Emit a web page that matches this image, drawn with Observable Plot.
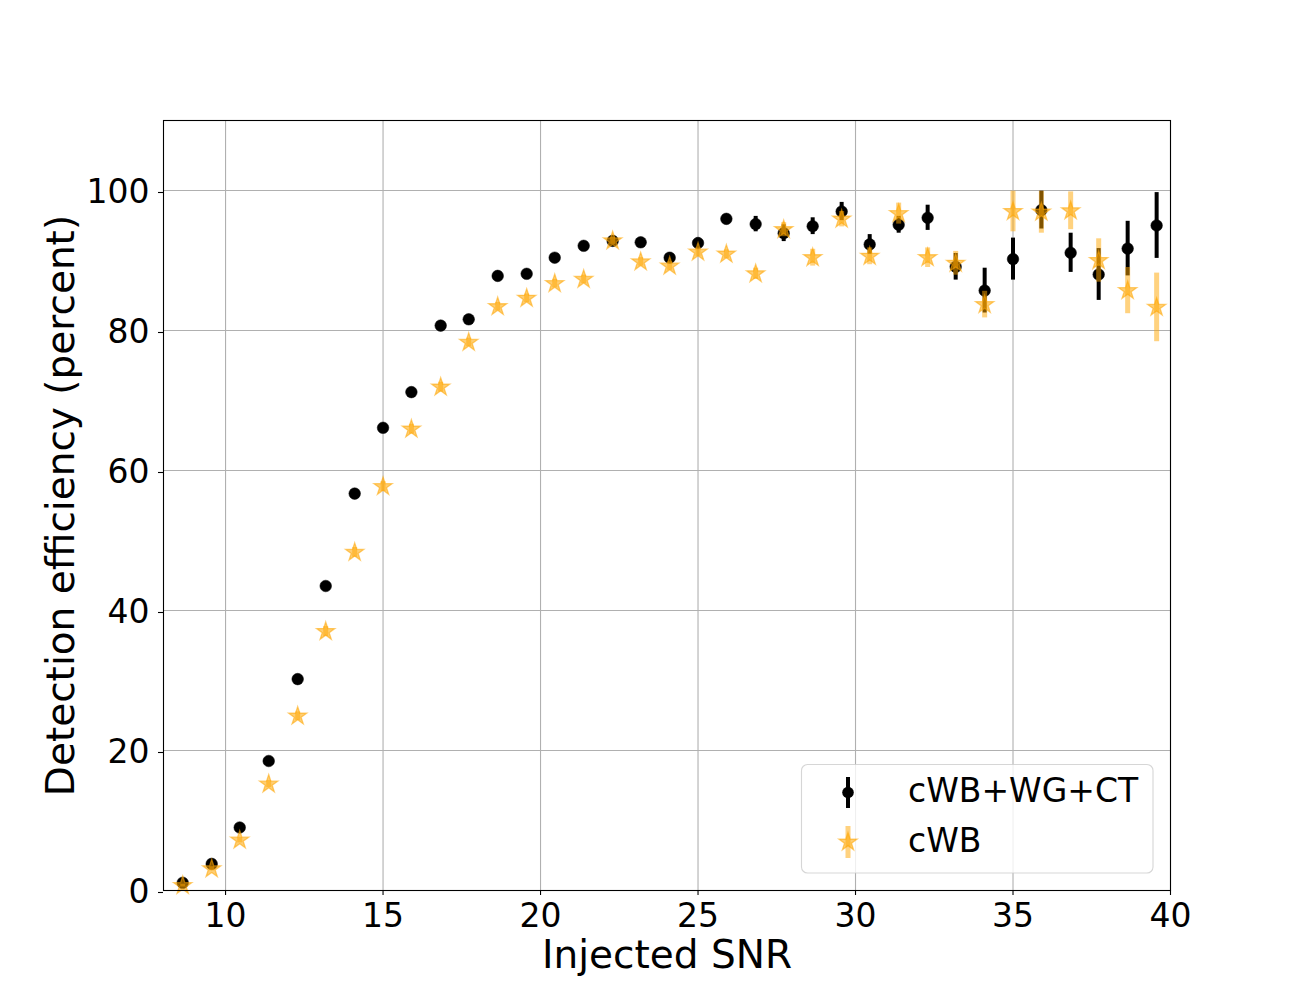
<!DOCTYPE html>
<html>
<head>
<meta charset="utf-8">
<script src="https://cdn.jsdelivr.net/npm/d3@7"></script>
<script src="https://cdn.jsdelivr.net/npm/@observablehq/plot@0.6"></script>
<style>
  html, body { margin: 0; padding: 0; background: white; }
</style>
</head>
<body>
<div id="chart"></div>
<script>
// Injected SNR bins
const snr = [8.64, 9.56, 10.45, 11.37, 12.29, 13.18, 14.10, 15.0, 15.9, 16.83, 17.72, 18.64, 19.56, 20.45, 21.37, 22.29, 23.18, 24.1, 25.0, 25.9, 26.83, 27.72, 28.64, 29.56, 30.45, 31.37, 32.29, 33.18, 34.1, 35.0, 35.9, 36.83, 37.72, 38.64, 39.56];

// cWB+WG+CT efficiency (percent) and error
const effCombined = [1.1, 3.8, 9.0, 18.5, 30.2, 43.5, 56.7, 66.1, 71.2, 80.7, 81.6, 87.8, 88.1, 90.4, 92.1, 92.8, 92.6, 90.4, 92.5, 95.95, 95.2, 93.9, 94.9, 97.0, 92.3, 95.1, 96.1, 89.1, 85.7, 90.2, 97.2, 91.1, 88.0, 91.7, 95.0];
const errCombined = [0.2, 0.3, 0.4, 0.5, 0.6, 0.6, 0.6, 0.6, 0.6, 0.5, 0.5, 0.5, 0.5, 0.5, 0.5, 0.5, 0.6, 0.7, 0.7, 0.6, 1.1, 1.2, 1.2, 1.3, 1.4, 1.2, 1.8, 1.9, 3.2, 3.0, 2.7, 2.8, 3.7, 3.9, 4.7];

// cWB efficiency (percent) and error
const effCwb = [0.7, 3.1, 7.2, 15.2, 24.9, 37.0, 48.3, 57.7, 65.9, 71.9, 78.3, 83.4, 84.6, 86.7, 87.3, 92.8, 89.8, 89.2, 91.2, 90.9, 88.1, 94.4, 90.4, 95.9, 90.6, 96.7, 90.4, 89.6, 83.7, 97.0, 96.9, 97.1, 90.0, 85.7, 83.3];
const errCwb = [0.2, 0.3, 0.4, 0.5, 0.6, 0.7, 0.7, 0.7, 0.7, 0.7, 0.6, 0.6, 0.6, 0.6, 0.6, 0.5, 0.6, 0.6, 0.6, 0.6, 0.8, 1.0, 1.2, 1.1, 1.2, 1.5, 1.4, 1.7, 1.9, 2.9, 3.0, 2.7, 3.1, 3.3, 4.9];

const xTicks = [10, 15, 20, 25, 30, 35, 40];
const yTicks = [0, 20, 40, 60, 80, 100];
const seriesNames = ["cWB+WG+CT", "cWB"];
const xLabel = "Injected SNR";
const yLabel = "Detection efficiency (percent)";

const combined = snr.map((x, i) => ({x, y: effCombined[i], lo: effCombined[i] - errCombined[i], hi: effCombined[i] + errCombined[i]}));
const cwb = snr.map((x, i) => ({x, y: effCwb[i], lo: effCwb[i] - errCwb[i], hi: effCwb[i] + errCwb[i]}));

const ORANGE = "#FFA500";
const FONT = "DejaVu Sans, sans-serif";

const chart = Plot.plot({
  width: 1300,
  height: 1000,
  marginLeft: 163,
  marginRight: 130,
  marginTop: 120,
  marginBottom: 110,
  style: {fontFamily: FONT, fontSize: "33px", color: "black", background: "white"},
  x: {domain: [8.03, 40], label: null},
  y: {domain: [0, 110], label: null},
  marks: [
    Plot.gridX(xTicks, {stroke: "#b0b0b0", strokeOpacity: 1, strokeWidth: 1.1}),
    Plot.gridY(yTicks, {stroke: "#b0b0b0", strokeOpacity: 1, strokeWidth: 1.1}),
    Plot.axisX({ticks: xTicks, tickSize: 5, tickPadding: 8, tickFormat: d => String(d), label: null, fontSize: 33, strokeWidth: 1.1}),
    Plot.axisY({ticks: yTicks, tickSize: 5, tickPadding: 9, dy: 2, tickFormat: d => String(d), label: null, fontSize: 33, strokeWidth: 1.1}),
    Plot.ruleX(combined, {x: "x", y1: "lo", y2: "hi", stroke: "black", strokeWidth: 4}),
    Plot.dot(combined, {x: "x", y: "y", r: 5.8, fill: "black", stroke: "black", strokeWidth: 0.5}),
    Plot.ruleX(cwb, {x: "x", y1: "lo", y2: "hi", stroke: ORANGE, strokeOpacity: 0.5, strokeWidth: 5}),
    Plot.dot(cwb, {x: "x", y: "y", symbol: "star", r: 5.7, fill: ORANGE, fillOpacity: 0.55, stroke: ORANGE, strokeOpacity: 0.55, strokeWidth: 1.3}),
    Plot.frame({stroke: "black", strokeWidth: 1.1}),
    Plot.text([xLabel], {text: d => d, frameAnchor: "bottom", textAnchor: "middle", lineAnchor: "middle", dy: 65.5, fontSize: 39, fill: "black"}),
    Plot.text([yLabel], {text: d => d, frameAnchor: "left", textAnchor: "middle", lineAnchor: "middle", dx: -102, rotate: -90, fontSize: 39, fill: "black"})
  ]
});

document.getElementById("chart").appendChild(chart);

// Legend (inside the plot frame, lower right)
const svg = d3.select(chart);
const lg = svg.append("g").attr("font-family", FONT).attr("font-size", 33).attr("text-anchor", "start");
lg.append("rect")
  .attr("x", 801.5).attr("y", 764.5).attr("width", 351.5).attr("height", 108.5)
  .attr("rx", 6).attr("ry", 6)
  .attr("fill", "white").attr("fill-opacity", 0.8)
  .attr("stroke", "#cccccc").attr("stroke-opacity", 0.8).attr("stroke-width", 1.1);

// entry 1: black errorbar with circle
lg.append("line").attr("x1", 848).attr("x2", 848).attr("y1", 777).attr("y2", 808)
  .attr("stroke", "black").attr("stroke-width", 4);
lg.append("circle").attr("cx", 848).attr("cy", 792.5).attr("r", 5.8).attr("fill", "black");
lg.append("text").attr("x", 908).attr("y", 802).attr("fill", "black").attr("text-anchor", "start").text(seriesNames[0]);

// entry 2: orange errorbar with star
lg.append("line").attr("x1", 848).attr("x2", 848).attr("y1", 826).attr("y2", 858)
  .attr("stroke", ORANGE).attr("stroke-opacity", 0.5).attr("stroke-width", 5);
lg.append("path")
  .attr("d", d3.symbol(d3.symbolStar, 5.7 * 5.7 * Math.PI)())
  .attr("transform", "translate(848,842)")
  .attr("fill", ORANGE).attr("fill-opacity", 0.55)
  .attr("stroke", ORANGE).attr("stroke-opacity", 0.55).attr("stroke-width", 1.3);
lg.append("text").attr("x", 908).attr("y", 852).attr("fill", "black").attr("text-anchor", "start").text(seriesNames[1]);
</script>
</body>
</html>
